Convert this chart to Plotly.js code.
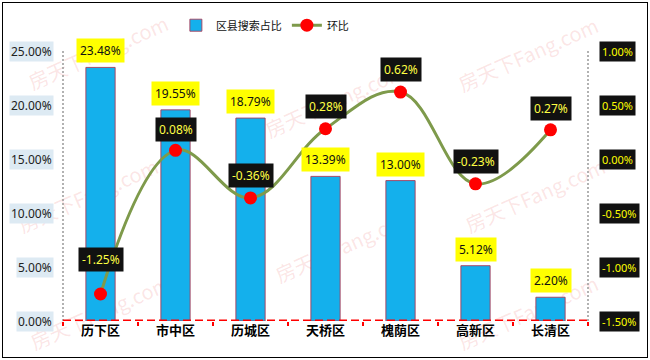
<!DOCTYPE html>
<html><head><meta charset="utf-8">
<script src="https://cdn.plot.ly/plotly-3.0.1.min.js"></script>
<style>
html,body{margin:0;padding:0;background:#fff;}
#wrap{position:relative;width:650px;height:360px;overflow:hidden;}
#chart{position:absolute;left:0;top:0;width:650px;height:360px;outline:1px solid #000;outline-offset:-3px;}
.wm{position:absolute;white-space:nowrap;font-family:"Noto Sans CJK SC",sans-serif;font-size:20px;
    color:rgba(235,100,100,0.17);transform:translate(-50%,-50%) rotate(-24deg);}
</style></head>
<body><div id="wrap"><div id="chart"></div></div>
<script>
const categories = ['历下区','市中区','历城区','天桥区','槐荫区','高新区','长清区'];
const shareValues = [23.48, 19.55, 18.79, 13.39, 13.00, 5.12, 2.20];
const changeValues = [-1.25, 0.08, -0.36, 0.28, 0.62, -0.23, 0.27];
const leftTicks = [0, 5, 10, 15, 20, 25];
const rightTicks = [-1.5, -1.0, -0.5, 0.0, 0.5, 1.0];
const seriesNames = ['区县搜索占比', '环比'];
const watermarkText = '房天下Fang.com';

// styling / placement helpers (not data)
const lineLabelShift = [22, 8, 10, 10, 10, 10, 9];
const watermarkSpots = [[98,52],[528,54],[335,100],[88,195],[535,195],[345,245],[100,312],[528,312]];

const W = 650, H = 360, ML = 63, MR = 62, MT = 50, MB = 39;
const fontFam = '"Noto Sans", "Noto Sans CJK SC", sans-serif';
const pct = v => v.toFixed(2) + '%';

// watermark behind the chart
const wrap = document.getElementById('wrap');
watermarkSpots.forEach(p => {
  const d = document.createElement('div');
  d.className = 'wm';
  d.style.left = p[0] + 'px';
  d.style.top = p[1] + 'px';
  d.textContent = watermarkText;
  wrap.insertBefore(d, wrap.firstChild);
});

const bars = {
  type: 'bar', name: seriesNames[0], x: categories, y: shareValues, yaxis: 'y',
  marker: {color: '#14B0EC', line: {color: 'rgba(170,60,90,0.9)', width: 1}},
  hoverinfo: 'skip'
};
const line = {
  type: 'scatter', mode: 'lines+markers', name: seriesNames[1], x: categories, y: changeValues, yaxis: 'y2',
  line: {color: '#7E9A4B', width: 3, shape: 'spline', smoothing: 1.1},
  marker: {color: '#FF0000', size: 13},
  hoverinfo: 'skip'
};

const annotations = [];
leftTicks.forEach(t => annotations.push({
  x: 0, xref: 'paper', y: t, yref: 'y', text: pct(t), showarrow: false,
  xanchor: 'right', xshift: -9, font: {family: fontFam, size: 12, color: '#222'},
  bgcolor: '#DDEAF3', borderpad: 1
}));
rightTicks.forEach(t => annotations.push({
  x: 1, xref: 'paper', y: t, yref: 'y2', text: pct(t), showarrow: false,
  xanchor: 'left', xshift: 11, font: {family: fontFam, size: 11, color: '#FFFF00'},
  bgcolor: '#111111', borderpad: 2
}));
categories.forEach((c, i) => {
  annotations.push({
    x: c, y: shareValues[i], yref: 'y', text: pct(shareValues[i]), showarrow: false,
    yanchor: 'bottom', yshift: 4, font: {family: fontFam, size: 12, color: '#111'},
    bgcolor: '#FFFF00', borderpad: 3
  });
  annotations.push({
    x: c, y: changeValues[i], yref: 'y2', text: pct(changeValues[i]), showarrow: false,
    yanchor: 'bottom', yshift: lineLabelShift[i], font: {family: fontFam, size: 12, color: '#FFFF44'},
    bgcolor: '#111111', borderpad: 3
  });
});

const layout = {
  width: W, height: H,
  margin: {l: ML, r: MR, t: MT, b: MB},
  paper_bgcolor: 'rgba(0,0,0,0)', plot_bgcolor: 'rgba(0,0,0,0)',
  bargap: 0.61,
  showlegend: true,
  legend: {orientation: 'h', x: 0.215, xanchor: 'left', y: 1.145, yanchor: 'top',
           font: {family: '"Noto Sans CJK SC", sans-serif', size: 11, color: '#111'}, itemgap: 0, bgcolor: 'rgba(0,0,0,0)'},
  xaxis: {type: 'category', showgrid: false, zeroline: false, showline: false,
          ticks: 'outside', tickson: 'boundaries', ticklen: 4, tickwidth: 2, tickcolor: '#FF0000',
          tickfont: {family: '"Noto Sans CJK SC", sans-serif', size: 13, color: '#000', weight: 'bold'}},
  yaxis: {range: [0, 25], showgrid: false, zeroline: false, showticklabels: false, showline: false, ticks: ''},
  yaxis2: {range: [-1.5, 1.0], overlaying: 'y', side: 'right', showgrid: false, zeroline: false,
           showticklabels: false, showline: false, ticks: ''},
  shapes: [
    {type: 'line', xref: 'paper', yref: 'paper', x0: 0, x1: 0, y0: 0, y1: 1, line: {color: '#999', width: 1.5, dash: '2px,2px'}},
    {type: 'line', xref: 'paper', yref: 'paper', x0: 1, x1: 1, y0: 0, y1: 1, line: {color: '#999', width: 1.5, dash: '2px,2px'}},
    {type: 'line', xref: 'paper', yref: 'y', x0: 0, x1: 1, y0: 0, y1: 0, layer: 'above', line: {color: '#FF0000', width: 3, dash: '8px,4px'}}
  ],
  annotations: annotations
};
Plotly.newPlot('chart', [bars, line], layout, {displayModeBar: false, staticPlot: true});
</script></body></html>
